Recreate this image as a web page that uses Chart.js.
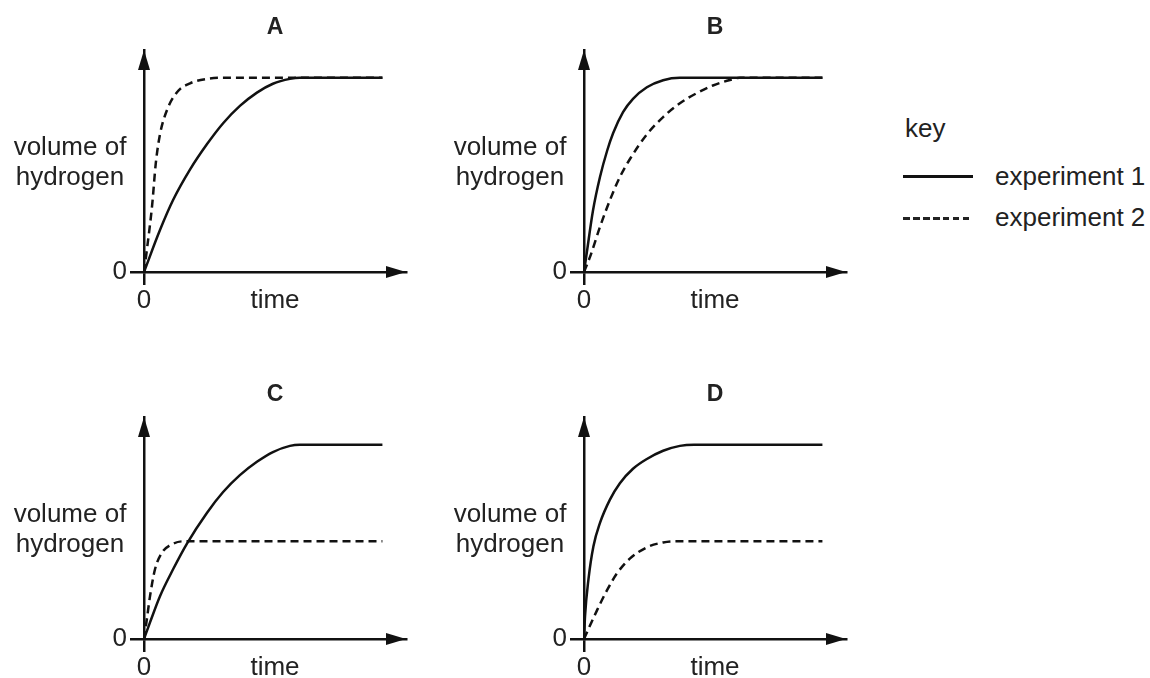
<!DOCTYPE html>
<html>
<head>
<meta charset="utf-8">
<script src="https://cdn.jsdelivr.net/npm/chart.js@4.4.1/dist/chart.umd.min.js"></script>
<style>
    body { margin: 0; background: #fff; width: 1150px; height: 678px; overflow: hidden; position: relative;
           font-family: "Liberation Sans", Arial, sans-serif; color: #222; }
    .panel { position: absolute; width: 430px; height: 320px; }
    .key-text { position: absolute; font-size: 26px; line-height: 30px; white-space: nowrap; }
    .key-line { position: absolute; left: 903px; width: 70px; }
</style>
</head>
<body>
<div class="panel" style="left:0;top:0"><canvas id="chartA" width="430" height="320"></canvas></div>
<div class="panel" style="left:440px;top:0"><canvas id="chartB" width="430" height="320"></canvas></div>
<div class="panel" style="left:0;top:367px"><canvas id="chartC" width="430" height="320"></canvas></div>
<div class="panel" style="left:440px;top:367px"><canvas id="chartD" width="430" height="320"></canvas></div>

<div class="key-text" style="left:905px;top:113px">key</div>
<div class="key-line" style="top:175px;height:3px;background:#111"></div>
<div class="key-text" style="left:995px;top:161px">experiment 1</div>
<div class="key-line" style="top:217px;height:2.5px;background:repeating-linear-gradient(90deg,#222 0 6.5px,transparent 6.5px 10px)"></div>
<div class="key-text" style="left:995px;top:202px">experiment 2</div>

<script>
// values (arbitrary units, axes 0..10)
const timeA1 = [0, 0.61, 1.11, 1.76, 2.40, 3.02, 3.66, 4.31, 4.92, 5.57, 5.95, 9.1];
const volA1  = [0, 1.89, 3.24, 4.62, 5.75, 6.70, 7.48, 8.08, 8.48, 8.70, 8.75, 8.75];
const timeA2 = [0, 0.11, 0.31, 0.45, 0.61, 0.88, 1.26, 1.76, 2.40, 3.00, 9.1];
const volA2  = [0, 1.00, 3.00, 4.90, 6.20, 7.30, 8.10, 8.50, 8.70, 8.75, 8.75];

const timeB1 = [0, 0.11, 0.34, 0.61, 0.88, 1.11, 1.49, 1.87, 2.40, 3.02, 3.66, 9.1];
const volB1  = [0, 0.90, 2.75, 4.28, 5.45, 6.25, 7.20, 7.80, 8.32, 8.64, 8.75, 8.75];
const timeB2 = [0, 0.23, 0.61, 0.99, 1.37, 1.76, 2.40, 3.02, 3.66, 4.31, 4.92, 5.57, 5.95, 9.1];
const volB2  = [0, 0.68, 2.03, 3.24, 4.28, 5.10, 6.20, 6.98, 7.60, 8.06, 8.40, 8.65, 8.75, 8.75];

const timeC1 = [0, 0.23, 0.61, 1.11, 1.64, 2.40, 3.02, 3.66, 4.31, 4.92, 5.57, 5.95, 9.1];
const volC1  = [0, 0.75, 1.93, 3.14, 4.30, 5.68, 6.62, 7.38, 7.98, 8.42, 8.70, 8.75, 8.75];
const timeC2 = [0, 0.11, 0.23, 0.42, 0.69, 0.99, 1.49, 9.1];
const volC2  = [0, 0.90, 1.93, 3.14, 3.90, 4.22, 4.40, 4.40];

const timeD1 = [0, 0.04, 0.17, 0.36, 0.61, 0.99, 1.37, 1.87, 2.40, 3.02, 3.66, 4.20, 9.1];
const volD1  = [0, 1.04, 2.69, 4.18, 5.23, 6.28, 7.02, 7.67, 8.11, 8.48, 8.70, 8.75, 8.75];
const timeD2 = [0, 0.15, 0.50, 0.88, 1.26, 1.76, 2.40, 3.02, 3.40, 9.1];
const volD2  = [0, 0.40, 1.30, 2.20, 2.96, 3.63, 4.13, 4.35, 4.40, 4.40];

const seriesNames = ['experiment 1', 'experiment 2'];
const xTitle = 'time';
const yTitle = ['volume of', 'hydrogen'];
const ink = '#111';
const textColor = '#222';
const fontFamily = '"Liberation Sans", Arial, sans-serif';

const toPoints = (t, v) => t.map((x, i) => ({ x: x, y: v[i] }));

// arrow heads + horizontal y-axis label
const axisDecor = {
    id: 'axisDecor',
    afterDraw(chart) {
        const { ctx, chartArea: a } = chart;
        ctx.save();
        ctx.fillStyle = ink;
        ctx.beginPath();
        ctx.moveTo(a.left, a.top);
        ctx.lineTo(a.left - 6, a.top + 20);
        ctx.lineTo(a.left + 6, a.top + 20);
        ctx.closePath();
        ctx.fill();
        ctx.beginPath();
        ctx.moveTo(a.right, a.bottom);
        ctx.lineTo(a.right - 20, a.bottom - 6);
        ctx.lineTo(a.right - 20, a.bottom + 6);
        ctx.closePath();
        ctx.fill();

        ctx.fillStyle = textColor;
        ctx.font = '26px ' + fontFamily;
        ctx.textAlign = 'center';
        ctx.textBaseline = 'middle';
        ctx.fillText(yTitle[0], a.left - 74, a.top + 98);
        ctx.fillText(yTitle[1], a.left - 74, a.top + 128);
        ctx.restore();
    }
};

function makePanel(id, letter, t1, v1, t2, v2) {
    new Chart(document.getElementById(id), {
        type: 'line',
        data: {
            datasets: [
                {
                    label: seriesNames[0],
                    data: toPoints(t1, v1),
                    borderColor: ink, borderWidth: 2.5,
                    pointRadius: 0, fill: false,
                    cubicInterpolationMode: 'monotone'
                },
                {
                    label: seriesNames[1],
                    data: toPoints(t2, v2),
                    borderColor: ink, borderWidth: 2.5, borderDash: [8, 5],
                    pointRadius: 0, fill: false,
                    cubicInterpolationMode: 'monotone'
                }
            ]
        },
        options: {
            responsive: false,
            animation: false,
            events: [],
            layout: { padding: { top: 0, right: 24, left: 0, bottom: 0 } },
            plugins: {
                legend: { display: false },
                tooltip: { enabled: false },
                title: {
                    display: true, text: letter, fullSize: false,
                    color: textColor,
                    font: { family: fontFamily, size: 23, weight: 'bold' },
                    padding: { top: 14, bottom: 8.4 }
                }
            },
            scales: {
                x: {
                    type: 'linear', min: 0, max: 10,
                    afterBuildTicks: s => { s.ticks = [{ value: 0 }]; },
                    afterFit: s => { s.height = 48; },
                    ticks: { color: textColor, font: { family: fontFamily, size: 26 }, padding: 0, maxRotation: 0 },
                    grid: { drawOnChartArea: false, drawTicks: true, tickLength: 13, color: ink, lineWidth: 2.5 },
                    border: { display: true, color: ink, width: 2.5 },
                    title: { display: true, text: xTitle, color: textColor,
                             font: { family: fontFamily, size: 26 }, padding: { top: 0, bottom: 4 } }
                },
                y: {
                    type: 'linear', min: 0, max: 10,
                    afterBuildTicks: s => { s.ticks = [{ value: 0 }]; },
                    afterFit: s => { s.width = 144; },
                    ticks: { color: textColor, font: { family: fontFamily, size: 26 }, padding: 3 },
                    grid: { drawOnChartArea: false, drawTicks: true, tickLength: 14, color: ink, lineWidth: 2.5 },
                    border: { display: true, color: ink, width: 2.5 }
                }
            }
        },
        plugins: [axisDecor]
    });
}

makePanel('chartA', 'A', timeA1, volA1, timeA2, volA2);
makePanel('chartB', 'B', timeB1, volB1, timeB2, volB2);
makePanel('chartC', 'C', timeC1, volC1, timeC2, volC2);
makePanel('chartD', 'D', timeD1, volD1, timeD2, volD2);
</script>
</body>
</html>
